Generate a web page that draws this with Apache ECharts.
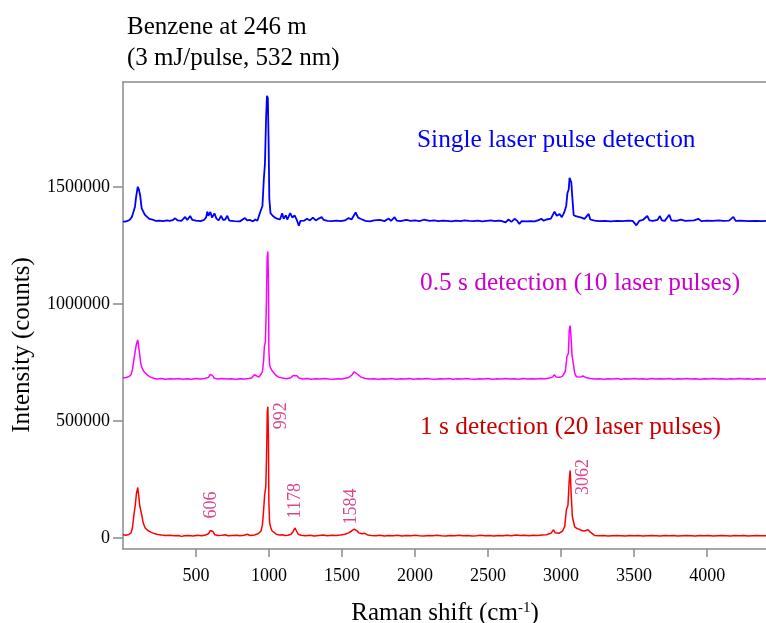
<!DOCTYPE html>
<html>
<head>
<meta charset="utf-8">
<script src="https://cdn.jsdelivr.net/npm/echarts@6/dist/echarts.min.js"></script>
<style>
  html, body { margin: 0; padding: 0; background: #fff; }
  #chart { width: 766px; height: 623px; }
</style>
</head>
<body>
<div id="chart"></div>
<script>
// Raman spectra of benzene, [shift (cm-1), intensity (counts)]
const singlePulse = [
  [0, 1353000], [14, 1353000], [30, 1356000], [45, 1360000], [60, 1372000], [72, 1395000],
  [82, 1417000], [90, 1460000], [101, 1502000], [109, 1490000], [117, 1467000], [128, 1410000],
  [140, 1395000], [150, 1382000], [163, 1374000], [180, 1365000], [208, 1360000], [225, 1356000],
  [250, 1357000], [275, 1355000], [300, 1358000], [320, 1356000], [340, 1359000], [357, 1367000],
  [375, 1358000], [400, 1356000], [426, 1373000], [440, 1360000], [460, 1377000], [475, 1360000],
  [500, 1357000], [530, 1355000], [555, 1360000], [570, 1372000], [577, 1396000], [585, 1378000],
  [598, 1394000], [610, 1370000], [626, 1388000], [640, 1366000], [655, 1358000], [672, 1378000],
  [685, 1360000], [700, 1362000], [714, 1378000], [728, 1357000], [760, 1355000], [800, 1354000],
  [835, 1368000], [850, 1358000], [870, 1360000], [890, 1354000], [905, 1362000], [920, 1357000],
  [941, 1396000], [955, 1420000], [964, 1531000], [972, 1600000], [980, 1800000], [986, 1891000],
  [992, 1880000], [997, 1700000], [1002, 1450000], [1010, 1389000], [1025, 1378000], [1040, 1370000],
  [1055, 1366000], [1075, 1362000], [1090, 1389000], [1100, 1365000], [1115, 1380000], [1125, 1362000],
  [1145, 1389000], [1160, 1370000], [1175, 1380000], [1190, 1360000], [1204, 1336000], [1215, 1356000],
  [1240, 1357000], [1260, 1365000], [1280, 1358000], [1300, 1370000], [1320, 1358000], [1340, 1366000],
  [1360, 1372000], [1375, 1360000], [1400, 1356000], [1430, 1355000], [1460, 1357000], [1490, 1355000],
  [1520, 1358000], [1545, 1368000], [1565, 1362000], [1593, 1392000], [1610, 1370000], [1630, 1364000],
  [1660, 1356000], [1690, 1354000], [1720, 1358000], [1760, 1360000], [1790, 1355000], [1820, 1366000],
  [1835, 1356000], [1860, 1372000], [1875, 1357000], [1900, 1355000], [1940, 1360000], [1970, 1356000],
  [2000, 1358000], [2030, 1355000], [2060, 1361000], [2100, 1356000], [2130, 1358000], [2160, 1355000],
  [2190, 1357000], [2220, 1356000], [2250, 1354000], [2280, 1357000], [2310, 1355000], [2340, 1358000],
  [2370, 1356000], [2400, 1355000], [2430, 1357000], [2460, 1354000], [2490, 1356000], [2520, 1358000],
  [2545, 1355000], [2570, 1357000], [2590, 1356000], [2620, 1350000], [2640, 1362000], [2660, 1352000],
  [2681, 1365000], [2700, 1356000], [2714, 1343000], [2730, 1355000], [2760, 1354000], [2790, 1355000],
  [2820, 1354000], [2850, 1360000], [2864, 1365000], [2880, 1357000], [2900, 1362000], [2930, 1366000],
  [2955, 1396000], [2970, 1378000], [2990, 1385000], [3005, 1372000], [3020, 1390000], [3035, 1420000],
  [3043, 1474000], [3052, 1490000], [3058, 1540000], [3063, 1543000], [3070, 1520000], [3075, 1474000],
  [3086, 1381000], [3100, 1376000], [3120, 1373000], [3140, 1370000], [3160, 1365000], [3189, 1386000],
  [3200, 1362000], [3230, 1357000], [3260, 1355000], [3300, 1356000], [3340, 1354000], [3380, 1356000],
  [3420, 1355000], [3460, 1357000], [3490, 1356000], [3516, 1337000], [3535, 1356000], [3560, 1360000],
  [3590, 1377000], [3605, 1358000], [3630, 1356000], [3660, 1360000], [3677, 1377000], [3690, 1358000],
  [3710, 1356000], [3741, 1382000], [3755, 1358000], [3790, 1356000], [3820, 1361000], [3850, 1356000],
  [3880, 1357000], [3910, 1358000], [3940, 1365000], [3960, 1355000], [4000, 1357000], [4040, 1356000],
  [4080, 1358000], [4110, 1356000], [4150, 1357000], [4180, 1373000], [4195, 1356000], [4230, 1357000],
  [4280, 1355000], [4330, 1356000], [4380, 1355000], [4410, 1356000]
];

const halfSecond = [
  [0, 684000], [20, 686000], [40, 690000], [55, 698000], [65, 720000], [75, 765000],
  [82, 792000], [92, 830000], [101, 847000], [108, 815000], [114, 785000], [121, 749000],
  [130, 728000], [140, 715000], [151, 706000], [170, 695000], [185, 689000], [205, 684000],
  [230, 680000], [260, 682000], [290, 679000], [320, 681000], [350, 680000], [380, 682000],
  [410, 679000], [440, 681000], [470, 679000], [500, 682000], [530, 680000], [560, 682000],
  [585, 687000], [598, 700000], [606, 706000], [614, 694000], [625, 683000], [650, 680000],
  [680, 682000], [710, 680000], [740, 681000], [770, 679000], [800, 681000], [830, 680000],
  [860, 682000], [880, 684000], [900, 698000], [910, 690000], [930, 688000], [945, 700000],
  [955, 712000], [963, 760000], [968, 819000], [975, 840000], [982, 1000000], [987, 1200000],
  [992, 1225000], [996, 1100000], [999, 800000], [1004, 740000], [1010, 728000], [1025, 712000],
  [1044, 698000], [1065, 688000], [1090, 684000], [1120, 681000], [1150, 685000], [1165, 695000],
  [1178, 702000], [1190, 694000], [1205, 684000], [1230, 680000], [1260, 682000], [1290, 679000],
  [1320, 681000], [1350, 680000], [1380, 682000], [1410, 680000], [1440, 679000], [1470, 681000],
  [1500, 680000], [1520, 683000], [1540, 685000], [1565, 695000], [1584, 711000], [1595, 705000],
  [1610, 698000], [1630, 688000], [1660, 682000], [1690, 680000], [1720, 681000], [1750, 679000],
  [1780, 681000], [1810, 680000], [1840, 682000], [1870, 679000], [1900, 681000], [1930, 680000],
  [1960, 682000], [1990, 679000], [2020, 681000], [2050, 680000], [2080, 682000], [2110, 680000],
  [2140, 679000], [2170, 681000], [2200, 680000], [2230, 682000], [2260, 679000], [2290, 681000],
  [2320, 680000], [2350, 682000], [2380, 680000], [2410, 679000], [2440, 681000], [2470, 680000],
  [2500, 682000], [2530, 679000], [2560, 681000], [2590, 680000], [2620, 682000], [2650, 680000],
  [2680, 681000], [2710, 679000], [2740, 682000], [2770, 680000], [2800, 681000], [2830, 680000],
  [2860, 682000], [2890, 681000], [2920, 684000], [2940, 688000], [2954, 698000], [2965, 689000],
  [2990, 687000], [3008, 691000], [3029, 712000], [3040, 776000], [3050, 790000], [3056, 890000],
  [3062, 908000], [3068, 860000], [3075, 780000], [3085, 740000], [3093, 705000], [3104, 690000],
  [3130, 688000], [3150, 693000], [3170, 686000], [3200, 682000], [3230, 680000], [3260, 681000],
  [3290, 679000], [3320, 681000], [3350, 680000], [3380, 682000], [3410, 679000], [3440, 681000],
  [3470, 680000], [3500, 682000], [3530, 680000], [3560, 681000], [3590, 679000], [3620, 682000],
  [3650, 680000], [3680, 681000], [3710, 680000], [3740, 682000], [3770, 679000], [3800, 681000],
  [3830, 680000], [3860, 682000], [3890, 680000], [3920, 681000], [3950, 679000], [3980, 681000],
  [4010, 680000], [4040, 682000], [4070, 680000], [4100, 681000], [4130, 679000], [4160, 681000],
  [4190, 680000], [4220, 682000], [4250, 680000], [4280, 681000], [4310, 679000], [4340, 681000],
  [4370, 680000], [4410, 681000]
];

const oneSecond = [
  [0, 14000], [20, 12000], [40, 15000], [55, 22000], [65, 45000], [75, 100000],
  [84, 140000], [92, 190000], [101, 216000], [108, 180000], [114, 140000], [121, 138000],
  [128, 100000], [138, 65000], [151, 44000], [170, 32000], [190, 25000], [206, 21000],
  [230, 16000], [260, 13000], [290, 11000], [320, 12000], [350, 10000], [380, 11000],
  [400, 7000], [420, 10000], [450, 11000], [480, 9000], [510, 12000], [540, 10000],
  [565, 13000], [585, 18000], [598, 32000], [606, 38000], [615, 28000], [628, 14000],
  [650, 11000], [680, 12000], [700, 14000], [720, 10000], [750, 11000], [780, 12000],
  [800, 10000], [830, 12000], [850, 16000], [870, 11000], [900, 13000], [925, 18000],
  [945, 30000], [955, 57000], [963, 120000], [970, 185000], [978, 220000], [984, 380000],
  [988, 540000], [992, 561000], [996, 420000], [999, 150000], [1004, 65000], [1012, 45000],
  [1021, 30000], [1035, 24000], [1050, 16000], [1070, 13000], [1090, 14000], [1110, 11000],
  [1130, 12000], [1150, 16000], [1165, 28000], [1178, 43000], [1188, 30000], [1200, 16000],
  [1220, 12000], [1250, 10000], [1280, 12000], [1310, 9000], [1340, 11000], [1370, 13000],
  [1400, 10000], [1430, 12000], [1460, 11000], [1490, 13000], [1520, 16000], [1545, 22000],
  [1565, 30000], [1584, 38000], [1600, 32000], [1615, 22000], [1635, 18000], [1655, 20000],
  [1675, 13000], [1700, 11000], [1730, 10000], [1760, 12000], [1790, 9000], [1820, 11000],
  [1850, 10000], [1880, 12000], [1910, 9000], [1940, 11000], [1970, 10000], [2000, 12000],
  [2030, 10000], [2060, 9000], [2090, 11000], [2120, 10000], [2150, 12000], [2180, 10000],
  [2210, 9000], [2240, 11000], [2270, 10000], [2300, 12000], [2330, 10000], [2360, 11000],
  [2390, 9000], [2420, 10000], [2450, 12000], [2480, 10000], [2510, 11000], [2540, 9000],
  [2570, 11000], [2600, 10000], [2630, 12000], [2660, 10000], [2690, 13000], [2720, 11000],
  [2750, 12000], [2780, 10000], [2810, 12000], [2840, 11000], [2870, 13000], [2900, 14000],
  [2930, 20000], [2948, 35000], [2960, 22000], [2985, 20000], [3010, 30000], [3025, 50000],
  [3036, 121000], [3047, 140000], [3055, 240000], [3062, 289000], [3068, 200000], [3077, 92000],
  [3093, 48000], [3110, 40000], [3125, 38000], [3139, 32000], [3160, 30000], [3185, 35000],
  [3200, 25000], [3229, 11000], [3260, 10000], [3290, 11000], [3320, 9000], [3350, 10000],
  [3380, 11000], [3410, 10000], [3440, 9000], [3470, 11000], [3500, 10000], [3530, 11000],
  [3560, 9000], [3590, 10000], [3620, 11000], [3650, 10000], [3680, 9000], [3710, 11000],
  [3740, 10000], [3770, 11000], [3800, 9000], [3830, 10000], [3860, 11000], [3890, 10000],
  [3920, 9000], [3950, 11000], [3980, 10000], [4010, 11000], [4040, 9000], [4070, 10000],
  [4100, 11000], [4130, 10000], [4160, 9000], [4190, 11000], [4220, 10000], [4250, 11000],
  [4280, 9000], [4310, 10000], [4340, 11000], [4370, 10000], [4410, 10000]
];

// Assigned benzene bands on the 1 s spectrum
const peakShifts = [606, 992, 1178, 1584, 3062];
const peakCounts = [38000, 561000, 43000, 38000, 289000];

const intensityTicks = [0, 500000, 1000000, 1500000];
const shiftTicks = [500, 1000, 1500, 2000, 2500, 3000, 3500, 4000];

const titleLines = ['Benzene at 246 m', '(3 mJ/pulse, 532 nm)'];
const seriesNames = [
  'Single laser pulse detection',
  '0.5 s detection (10 laser pulses)',
  '1 s detection (20 laser pulses)'
];
const xAxisTitle = 'Raman shift (cm{sup|-1})';
const yAxisTitle = 'Intensity (counts)';

const FONT = "'Liberation Serif', 'Times New Roman', serif";
const AXIS_GREY = '#8a8a8a';
const LABEL_PINK = '#d0186e';

// label placement for each band: above the small peaks, beside the tall ones
const peakLabelLayout = [
  { position: [0, -10], align: 'left' },
  { position: [14, -4], align: 'right' },
  { position: [1, -9], align: 'left' },
  { position: [-3, -4], align: 'left' },
  { position: [14, -11], align: 'right' }
];

const peakData = peakShifts.map((s, i) => ({
  value: [s, peakCounts[i]],
  label: {
    show: true,
    formatter: String(s),
    rotate: 90,
    position: peakLabelLayout[i].position,
    align: peakLabelLayout[i].align,
    verticalAlign: 'middle',
    color: LABEL_PINK,
    fontFamily: FONT,
    fontSize: 18
  }
}));

const chart = echarts.init(document.getElementById('chart'), null, { renderer: 'canvas' });

chart.setOption({
  animation: false,
  backgroundColor: '#ffffff',
  title: {
    text: titleLines.join('\n'),
    left: 127,
    top: 12,
    padding: 0,
    textStyle: {
      fontFamily: FONT,
      fontSize: 25,
      lineHeight: 31,
      fontWeight: 'normal',
      color: '#000000'
    }
  },
  grid: { left: 123, top: 82, width: 644, height: 467, outerBoundsMode: 'none', containLabel: false },
  xAxis: [
    {
      type: 'value',
      min: 0,
      max: 4410,
      name: xAxisTitle,
      nameLocation: 'middle',
      nameGap: 52,
      nameTextStyle: {
        fontFamily: FONT,
        fontSize: 25,
        color: '#000000',
        rich: {
          sup: { fontFamily: FONT, fontSize: 15, color: '#000000', verticalAlign: 'bottom', padding: [0, 0, 10, 0] }
        }
      },
      axisLine: { show: true, onZero: false, lineStyle: { color: AXIS_GREY, width: 1.5 } },
      axisTick: { show: true, inside: false, length: 8, customValues: shiftTicks, lineStyle: { color: AXIS_GREY, width: 1.5 } },
      axisLabel: {
        customValues: shiftTicks,
        margin: 18,
        fontFamily: FONT,
        fontSize: 18,
        color: '#000000',
        formatter: v => String(v)
      },
      splitLine: { show: false }
    },
    {
      type: 'value',
      position: 'top',
      min: 0,
      max: 4410,
      axisLine: { show: true, onZero: false, lineStyle: { color: AXIS_GREY, width: 1.5 } },
      axisTick: { show: false },
      axisLabel: { show: false },
      splitLine: { show: false }
    }
  ],
  yAxis: {
    type: 'value',
    min: -47000,
    max: 1950000,
    axisLine: { show: true, onZero: false, lineStyle: { color: AXIS_GREY, width: 1.5 } },
    axisTick: { show: true, inside: false, length: 10, customValues: intensityTicks, lineStyle: { color: AXIS_GREY, width: 1.5 } },
    axisLabel: {
      customValues: intensityTicks,
      margin: 13,
      fontFamily: FONT,
      fontSize: 18,
      color: '#000000',
      formatter: v => String(v)
    },
    splitLine: { show: false }
  },
  graphic: [
    {
      type: 'text', x: 22, y: 345, rotation: Math.PI / 2,
      style: { text: yAxisTitle, font: '25px ' + FONT, fill: '#000000', align: 'center', verticalAlign: 'middle' }
    },
    {
      type: 'text', x: 417, y: 140,
      style: { text: seriesNames[0], font: '25.4px ' + FONT, fill: '#0000ff', align: 'left', verticalAlign: 'middle' }
    },
    {
      type: 'text', x: 420, y: 283,
      style: { text: seriesNames[1], font: '25.4px ' + FONT, fill: '#cc00cc', align: 'left', verticalAlign: 'middle' }
    },
    {
      type: 'text', x: 420, y: 427,
      style: { text: seriesNames[2], font: '25.4px ' + FONT, fill: '#cc0000', align: 'left', verticalAlign: 'middle' }
    }
  ],
  series: [
    {
      name: seriesNames[0], type: 'line', data: singlePulse, showSymbol: false,
      lineStyle: { color: '#0000ff', width: 1.8 }, clip: true
    },
    {
      name: seriesNames[1], type: 'line', data: halfSecond, showSymbol: false,
      lineStyle: { color: '#ff00ff', width: 1.5 }, clip: true
    },
    {
      name: seriesNames[2], type: 'line', data: oneSecond, showSymbol: false,
      lineStyle: { color: '#ff0000', width: 1.5 }, clip: true
    },
    {
      name: 'bands', type: 'scatter', data: peakData, symbolSize: 1,
      itemStyle: { color: 'transparent' }, silent: true, z: 5
    }
  ]
});
</script>
</body>
</html>
